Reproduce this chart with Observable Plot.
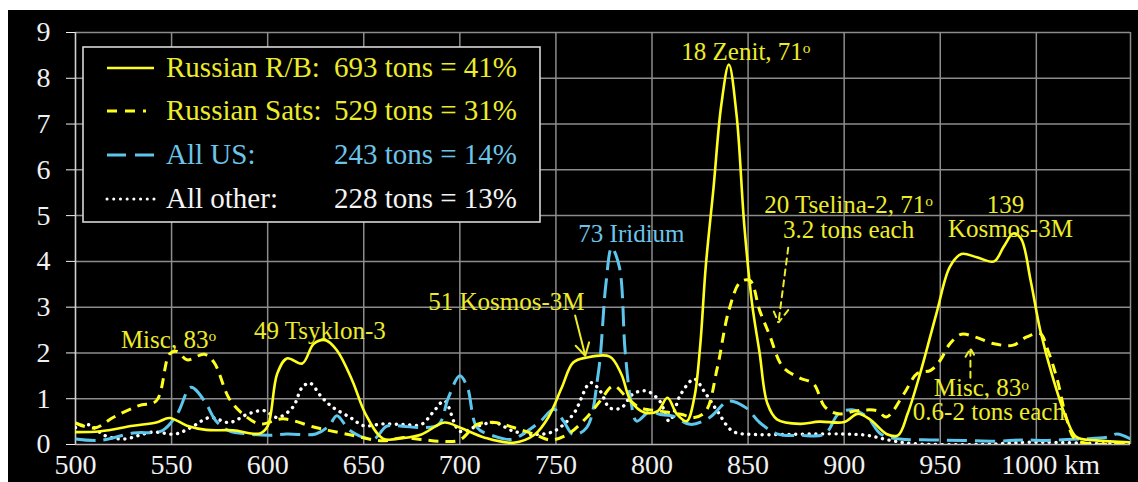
<!DOCTYPE html>
<html><head><meta charset="utf-8">
<script src="https://cdn.jsdelivr.net/npm/d3@7"></script>
<script src="https://cdn.jsdelivr.net/npm/@observablehq/plot@0.6"></script>
<style>
html,body{margin:0;padding:0;background:#fff;width:1138px;height:482px;overflow:hidden;}
#chart{position:absolute;left:8px;top:10px;width:1130px;height:472px;background:#000;}
#chart svg, #chart svg text, #chart svg tspan {font-family:"Liberation Serif","Tinos","DejaVu Serif","Noto Serif",serif !important;}
</style></head><body><div id="chart"></div>
<script>
// ---- data (altitude km, tons) ----
const rbKm  = [500,513,530,542,549,558,568,582,596,600,605,610,618,624,630,636,644,651,660,670,680,692,700,713,728,739,746,753,759,766,778,784,789,796,803,808,813,818,822,825,828,832,836,840,844,848,852,856,860,865,877,887,900,907,914,922,928,933,940,948,955,961,969,978,983,988,992,997,1002,1009,1016,1021,1031,1049];
const rbVal = [0.27,0.29,0.41,0.48,0.58,0.41,0.32,0.31,0.24,0.4,1.55,1.88,1.77,2.2,2.28,2.06,1.4,0.66,0.13,0.14,0.22,0.48,0.37,0.15,0.04,0.22,0.59,1.24,1.79,1.9,1.92,1.54,0.95,0.7,0.73,1.02,0.66,0.51,1.02,2.12,3.9,5.6,7.4,8.3,7.2,4.8,3.1,2.0,0.9,0.55,0.45,0.5,0.49,0.67,0.53,0.23,0.2,0.67,1.62,2.86,3.88,4.16,4.09,4.0,4.32,4.61,4.5,3.59,2.5,1.4,0.53,0.16,0.09,0.05];

const satKm  = [500,510,520,533,542,549,553,558,567,572,580,587,596,608,625,642,660,670,680,690,700,709,718,728,739,747,756,766,773,780,787,794,804,815,822,828,834,840,846,851,856,861,868,877,884,890,897,907,917,922,931,938,945,950,955,961,968,978,988,995,1002,1006,1011,1016,1021,1049];
const satVal = [0.47,0.36,0.6,0.85,0.95,1.98,2.03,1.85,1.97,1.8,1.0,0.67,0.45,0.56,0.37,0.22,0.08,0.15,0.11,0.07,0.1,0.44,0.48,0.37,0.22,0.1,0.22,0.59,0.95,1.28,1.02,0.8,0.73,0.66,0.59,0.73,1.68,2.93,3.55,3.58,2.93,2.41,1.7,1.45,1.33,0.82,0.67,0.74,0.74,0.6,1.1,1.55,1.62,1.84,2.2,2.41,2.35,2.2,2.17,2.35,2.42,2.06,1.4,0.53,0.09,0.02];

const usKm  = [500,513,530,545,553,560,567,573,580,590,600,610,625,632,636,643,655,662,670,680,689,694,700,704,709,718,727,735,742,749,754,759,766,772,776,779,783,786,789,792,799,804,811,820,830,840,849,856,866,877,890,897,904,912,919,929,945,962,980,992,1006,1023,1037,1042,1049];
const usVal = [0.12,0.09,0.25,0.3,0.67,1.25,0.96,0.52,0.3,0.23,0.2,0.23,0.23,0.41,0.63,0.3,0.12,0.4,0.4,0.37,0.44,1.02,1.5,1.24,0.37,0.18,0.11,0.29,0.51,0.77,0.51,0.22,0.37,1.54,3.5,4.3,3.88,2.05,0.95,0.51,0.73,0.66,0.62,0.44,0.59,0.95,0.8,0.48,0.22,0.2,0.23,0.67,0.76,0.6,0.23,0.12,0.1,0.09,0.07,0.1,0.09,0.12,0.16,0.23,0.12];

const otherKm  = [500,507,515,525,540,552,560,570,580,590,598,605,613,618,622,628,634,643,650,660,670,680,686,692,700,709,718,728,739,749,759,768,773,778,784,790,797,804,809,815,822,827,834,842,853,868,884,900,912,924,936,971,997,1049];
const otherVal = [0.37,0.43,0.2,0.12,0.27,0.23,0.37,0.59,0.48,0.67,0.74,0.59,0.81,1.25,1.34,1.04,0.81,0.59,0.41,0.45,0.44,0.44,0.7,0.95,0.29,0.4,0.48,0.29,0.22,0.29,0.66,1.35,1.17,0.8,0.8,1.1,1.17,0.95,0.51,1.1,1.43,1.17,0.73,0.29,0.22,0.22,0.23,0.23,0.2,0.09,0.02,0.0,0.05,0.0];

const xTicks = [500,550,600,650,700,750,800,850,900,950];
const xGrid  = [550,600,650,700,750,800,850,900,950,1000,1049];
const yTicks = [0,1,2,3,4,5,6,7,8,9];
const yGrid  = [1,2,3,4,5,6,7,8,9];

const legendLabels  = ["Russian R/B:", "Russian Sats:", "All US:", "All other:"];
const legendAmounts = ["693 tons = 41%", "529 tons = 31%", "243 tons = 14%", "228 tons = 13%"];

const annoText  = ["Misc, 83\u00BA","49 Tsyklon-3","51 Kosmos-3M","73 Iridium","18 Zenit, 71\u00BA","20 Tselina-2, 71\u00BA","3.2 tons each","139","Kosmos-3M","Misc, 83\u00BA","0.6-2 tons each"];
const annoKm    = [548.4,627.2,724.2,789.3,848.9,902.3,902.3,983.9,986.5,971.4,975.3];
const annoVal   = [2.29,2.49,3.12,4.59,8.58,5.24,4.69,5.24,4.71,1.23,0.7];
const annoColor = ["#ecec2a","#ecec2a","#ecec2a","#6cc4e8","#ecec2a","#ecec2a","#ecec2a","#ecec2a","#ecec2a","#ecec2a","#ecec2a"];

const arrowKm1  = [760.0, 870.9, 965.7];
const arrowVal1 = [2.82, 4.30, 1.46];
const arrowKm2  = [765.3, 865.8, 965.7];
const arrowVal2 = [1.94, 2.66, 2.10];
const arrowDash = ["none", "5,5", "5,5"];

// ---- styles ----
const YEL = "#ffff1e", BLU = "#5cc6ec", WHT = "#ffffff";
const series = [
  {km: otherKm, val: otherVal, stroke: WHT, dash: "0.1,6.6", width: 3.4, cap: "round"},
  {km: usKm, val: usVal, stroke: BLU, dash: "20,8", width: 3, cap: "butt"},
  {km: satKm, val: satVal, stroke: YEL, dash: "10,7", width: 3, cap: "butt"},
  {km: rbKm, val: rbVal, stroke: YEL, dash: "none", width: 2.6, cap: "round"}
];

const tbl = (a, b) => a.map((k, i) => ({km: k, v: b[i]}));
const annos = annoText.map((t, i) => ({t, km: annoKm[i], v: annoVal[i], c: annoColor[i]}));
const arrows = arrowKm1.map((k, i) => ({x1: k, y1: arrowVal1[i], x2: arrowKm2[i], y2: arrowVal2[i], d: arrowDash[i]}));

const plot = Plot.plot({
  width: 1130, height: 472,
  marginLeft: 67, marginRight: 8, marginTop: 22, marginBottom: 38,
  style: {background: "#000", color: "#f0f0f0"},
  x: {domain: [500, 1049]},
  y: {domain: [0, 9]},
  color: {type: "identity"},
  marks: [
    Plot.ruleX(xGrid, {stroke: "#8c8c8c", strokeWidth: 1.5}),
    Plot.ruleY(yGrid, {stroke: "#8c8c8c", strokeWidth: 1.5}),
    Plot.ruleX([500], {stroke: "#d0d0d0", strokeWidth: 1.6}),
    Plot.ruleY([0], {stroke: "#b8b8b8", strokeWidth: 1.6}),
    ...series.map(s => Plot.line(tbl(s.km, s.val), {
      x: "km", y: "v", curve: "catmull-rom", stroke: s.stroke, strokeWidth: s.width,
      strokeDasharray: s.dash, strokeLinecap: s.cap, clip: true
    })),
    Plot.arrow(arrows.filter(a => a.d === "none"), {x1: "x1", y1: "y1", x2: "x2", y2: "y2", stroke: "#ecec2a", strokeWidth: 2, headLength: 12}),
    Plot.arrow(arrows.filter(a => a.d !== "none"), {x1: "x1", y1: "y1", x2: "x2", y2: "y2", stroke: "#ecec2a", strokeWidth: 2, headLength: 12, strokeDasharray: "6,5"}),
    Plot.text(annos, {x: "km", y: "v", text: "t", fill: "c", fontSize: 25}),
    Plot.axisY({ticks: yTicks, tickSize: 9, tickPadding: 16, label: null, fontSize: 28, tickFormat: d => String(d)}),
    Plot.axisX({ticks: xTicks, tickSize: 0, tickPadding: 10, label: null, fontSize: 28, tickFormat: d => String(d)}),
    Plot.text([1000], {x: d => d, y: 0, text: () => "1000 km", textAnchor: "start", lineAnchor: "top", dx: -35, dy: 10, fontSize: 28, fill: "#f0f0f0"})
  ]
});
d3.select(plot).attr("font-family", "Liberation Serif, serif");
document.getElementById("chart").appendChild(plot);

// superscript "o" for the degree marks
d3.select(plot).selectAll("text").each(function() {
  const s = this.textContent;
  if (s.endsWith("\u00BA") && this.childElementCount === 0) {
    this.textContent = s.slice(0, -1);
    d3.select(this).append("tspan").attr("dy", "-0.42em").attr("font-size", "0.62em").text("o");
  }
});

// legend box
const svg = d3.select(plot);
const lg = svg.append("g").attr("font-size", 29).attr("text-anchor", "start");
lg.append("rect").attr("x", 75).attr("y", 37).attr("width", 457).attr("height", 175)
  .attr("fill", "#000").attr("stroke", "#d8d8d8").attr("stroke-width", 1.6);
const rowY = [58, 101, 145, 189];
const textCol = ["#ecec2a", "#ecec2a", "#6cc4e8", "#f4f4f4"];
const sampleStyle = [
  {stroke: YEL, dash: "none", w: 2.6, cap: "butt"},
  {stroke: YEL, dash: "10,8,10,8,3,40", w: 3, cap: "butt"},
  {stroke: BLU, dash: "19,9", w: 3, cap: "butt"},
  {stroke: WHT, dash: "0.1,6.6", w: 3, cap: "round"}
];
legendLabels.forEach((lab, i) => {
  const s = sampleStyle[i];
  lg.append("line").attr("x1", 99).attr("x2", 146).attr("y1", rowY[i]).attr("y2", rowY[i])
    .attr("stroke", s.stroke).attr("stroke-width", s.w).attr("stroke-dasharray", s.dash).attr("stroke-linecap", s.cap);
  lg.append("text").attr("x", 158).attr("y", rowY[i] + 9).attr("text-anchor", "start").attr("fill", textCol[i]).text(lab);
  lg.append("text").attr("x", 509).attr("y", rowY[i] + 9).attr("text-anchor", "end").attr("fill", textCol[i]).text(legendAmounts[i]);
});
</script></body></html>
